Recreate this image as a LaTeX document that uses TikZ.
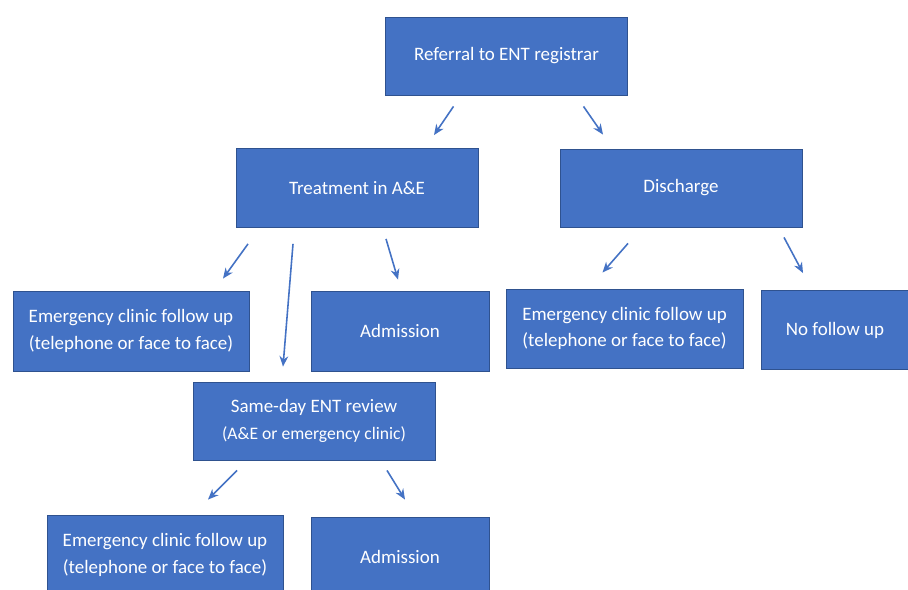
\documentclass[tikz,border=0pt]{standalone}
\usepackage{fontspec}
\setmainfont{Carlito}
\usetikzlibrary{arrows.meta,calc}
\definecolor{boxblue}{HTML}{4472C4}
\definecolor{edgeblue}{HTML}{2F528F}
\tikzset{
    box/.style={draw=edgeblue, fill=boxblue, text=white, line width=0.5pt,
        align=center, inner sep=0pt, font=\fontsize{10.8}{15}\selectfont},
    arr/.style={-{Stealth[length=6pt,width=5pt]}, draw=boxblue, line width=0.9pt}
}
\begin{document}
\begin{tikzpicture}[x=0.02cm, y=-0.02cm]
    \path[use as bounding box, fill=white] (0,0) rectangle (908,590);
    \clip (0,0) rectangle (908,590);
    % boxes
    \node[box, minimum width=4.84cm, minimum height=1.56cm] (ref) at (506.5,56) {Referral to ENT registrar};
    \node[box, minimum width=4.84cm, minimum height=1.58cm] (treat) at (357,188) {Treatment in A\&E};
    \node[box, minimum width=4.84cm, minimum height=1.56cm] (dis) at (681,188) {Discharge};
    \node[box, minimum width=4.72cm, minimum height=1.60cm] (emf1) at (131,331) {Emergency clinic follow up\\(telephone or face to face)};
    \node[box, minimum width=3.56cm, minimum height=1.60cm] (adm1) at (400,331) {Admission};
    \node[box, minimum width=4.74cm, minimum height=1.58cm] (emf2) at (624.5,328.5) {Emergency clinic follow up\\(telephone or face to face)};
    \node[box, minimum width=2.96cm, minimum height=1.58cm] (nofu) at (835,330) {No follow up};
    \node[box, minimum width=4.84cm, minimum height=1.56cm] (same) at (314,421) {Same-day ENT review\\{\fontsize{10}{15}\selectfont (A\&E or emergency clinic)}};
    \node[box, minimum width=4.72cm, minimum height=1.60cm] (emf3) at (165,555) {Emergency clinic follow up\\(telephone or face to face)};
    \node[box, minimum width=3.56cm, minimum height=1.60cm] (adm2) at (400,557) {Admission};
    % arrows
    \draw[arr] ($(ref.south)+(-53,11)$) -- ($(treat.north)+(77,-13)$);
    \draw[arr] ($(ref.south)+(77,11)$) -- ($(dis.north)+(-78,-14)$);
    \draw[arr] ($(treat.south)+(-109,16)$) -- ($(emf1.north)+(92,-12)$);
    \draw[arr] ($(treat.south)+(-64,16)$) -- ($(same.north)+(-31,-15)$);
    \draw[arr] ($(treat.south)+(29,11)$) -- ($(adm1.north)+(-2,-11)$);
    \draw[arr] ($(dis.south)+(-53,16)$) -- ($(emf2.north)+(-22,-16)$);
    \draw[arr] ($(dis.south)+(103,10)$) -- ($(nofu.north)+(-32,-17)$);
    \draw[arr] ($(same.south)+(-77,10)$) -- ($(emf3.north)+(43,-15)$);
    \draw[arr] ($(same.south)+(73,10)$) -- ($(adm2.north)+(5,-17)$);
\end{tikzpicture}
\end{document}
